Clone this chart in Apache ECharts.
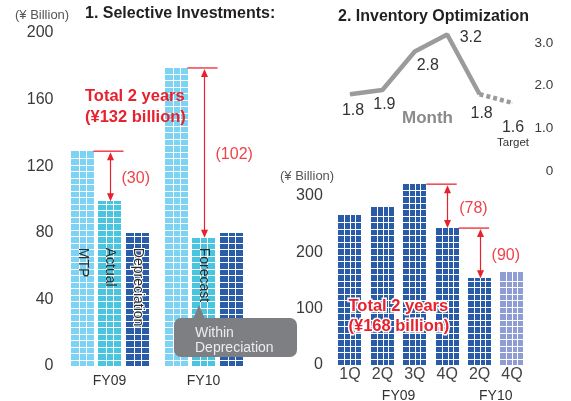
<!DOCTYPE html>
<html>
<head>
<meta charset="utf-8">
<script src="https://cdn.jsdelivr.net/npm/echarts@6/dist/echarts.min.js"></script>
<style>
  html, body { margin: 0; padding: 0; background: #fff; }
  #main { width: 571px; height: 401px; }
</style>
</head>
<body>
<div id="main"></div>
<script>
  // 1. Selective Investments (¥ Billion)
  var invYears = ['FY09', 'FY10'];
  var mtp = [129, 179];
  var actual = [99, 77];          // FY09 actual, FY10 forecast
  var depreciation = [80, 80];
  var invBarNames = [['MTP', 'Actual', 'Depreciation'], ['', 'Forecast', '']];
  var invGapLabels = ['(30)', '(102)'];

  // 2. Inventory Optimization
  var quarters = ['1Q', '2Q', '3Q', '4Q', '2Q', '4Q'];
  var fiscalGroups = ['FY09', 'FY10'];
  var fiscalSpans = [[0, 3], [4, 5]];
  var inventory = [266, 280, 321, 243, 154, 165];   // ¥ Billion
  var months = [1.8, 1.9, 2.8, 3.2, 1.8, 1.6];      // months of inventory
  var invReduceLabels = ['(78)', '(90)'];

  var FONT = '"Liberation Sans", Arial, sans-serif';
  var RED = '#e8212e';
  var RED_LIGHT = '#ee434c';

  var LEFT_LAY = { step: 0.2926, width: 0.24, cols: 3, ext: 14 };
  var RIGHT_LAY = { step: 0, width: 0.71, cols: 4, ext: 9.5 };

  function slotOf(api, cat, slot, lay) {
    var band = api.coord([1, 0])[0] - api.coord([0, 0])[0];
    return { cx: api.coord([cat, 0])[0] + slot * band * lay.step, w: band * lay.width };
  }

  // bar drawn as a tiled block (white grid over the fill)
  function barRender(lay, colors, names) {
    return function (params, api) {
      var cat = api.value(0), slot = api.value(1), val = api.value(2), ci = api.value(3);
      var g = slotOf(api, cat, slot, lay);
      var x = Math.round(g.cx - g.w / 2), w = Math.round(g.w);
      var yBase = Math.round(api.coord([cat, 0])[1]);
      var yTop = Math.round(api.coord([cat, val])[1]);
      var ch = [{ type: 'rect', shape: { x: x, y: yTop, width: w, height: yBase - yTop }, style: { fill: colors[ci] } }];
      for (var k = 1; k < lay.cols; k++) {
        ch.push({ type: 'rect', shape: { x: Math.round(x + w * k / lay.cols), y: yTop, width: 1, height: yBase - yTop }, style: { fill: '#fff' } });
      }
      for (var yy = yBase - 6.5; yy > yTop + 2; yy -= 6.5) {
        ch.push({ type: 'rect', shape: { x: x, y: Math.round(yy), width: w, height: 1 }, style: { fill: '#fff' } });
      }
      var t = names && names[params.dataIndex];
      if (t) {
        ch.push({
          type: 'text', x: x + w / 2, y: api.coord([cat, 71])[1], rotation: -Math.PI / 2,
          style: {
            text: t, fill: '#2b2b2b', font: '14px ' + FONT, align: 'left', verticalAlign: 'middle',
            stroke: ci === 2 ? '#fff' : null, lineWidth: ci === 2 ? 2 : 0
          }
        });
      }
      return { type: 'group', children: ch };
    };
  }

  // red bracket: level line + double arrow + label
  function arrowRender(lay, texts) {
    return function (params, api) {
      var a = slotOf(api, api.value(0), api.value(1), lay);
      var b = slotOf(api, api.value(3), api.value(4), lay);
      var y1 = api.coord([0, api.value(2)])[1];
      var y2 = api.coord([0, api.value(5)])[1];
      var cx = Math.round(b.cx) + 0.5;
      return {
        type: 'group', children: [
          { type: 'line', shape: { x1: a.cx + a.w / 2, y1: y1, x2: b.cx + lay.ext, y2: y1 }, style: { stroke: RED_LIGHT, lineWidth: 1.5 } },
          { type: 'line', shape: { x1: cx, y1: y1 + 6, x2: cx, y2: y2 - 6 }, style: { stroke: RED, lineWidth: 1.2 } },
          { type: 'polygon', shape: { points: [[cx, y1 + 1], [cx - 3.5, y1 + 9], [cx + 3.5, y1 + 9]] }, style: { fill: RED } },
          { type: 'polygon', shape: { points: [[cx, y2], [cx - 3.5, y2 - 8], [cx + 3.5, y2 - 8]] }, style: { fill: RED } },
          { type: 'text', x: b.cx + 12, y: (y1 + y2) / 2 + 2, style: { text: texts[params.dataIndex], fill: RED_LIGHT, font: '16px ' + FONT, verticalAlign: 'middle' } }
        ]
      };
    };
  }

  var leftBars = [], leftArrows = [];
  invYears.forEach(function (y, i) {
    leftBars.push([i, -1, mtp[i], 0], [i, 0, actual[i], 1], [i, 1, depreciation[i], 2]);
    leftArrows.push([i, -1, mtp[i], i, 0, actual[i]]);
  });
  var leftNames = [].concat.apply([], invBarNames);

  var rightBars = inventory.map(function (v, i) { return [i, 0, v, i === inventory.length - 1 ? 1 : 0]; });
  var rightArrows = [[2, 0, inventory[2], 3, 0, inventory[3]], [3, 0, inventory[3], 4, 0, inventory[4]]];
  var spanData = fiscalSpans.map(function (s) { return [s[0], s[1], 0]; });

  var solidLine = months.slice(0, 5);
  var dashLine = months.map(function (v, i) { return i >= 4 ? v : '-'; });
  var labelOffsets = [[3, 3], [2, 1], [13, 1], [7, 3], [2, 6]];

  var chart = echarts.init(document.getElementById('main'));
  window.onresize = chart.resize;

  var hideAxis = { axisLine: { show: false }, axisTick: { show: false }, splitLine: { show: false } };

  chart.setOption({
    animation: false,
    textStyle: { fontFamily: FONT },
    grid: [
      { left: 62.5, top: 33, width: 188, height: 333 },
      { left: 333.8, top: 43, width: 194.4, height: 128 },
      { left: 333.8, top: 179.1, width: 194.4, height: 185.9 }
    ],
    xAxis: [
      Object.assign({ gridIndex: 0, type: 'category', data: invYears,
        axisLabel: { fontSize: 14, color: '#333', margin: 8 } }, hideAxis),
      Object.assign({ gridIndex: 1, type: 'category', data: quarters, axisLabel: { show: false } }, hideAxis),
      Object.assign({ gridIndex: 2, type: 'category', data: quarters,
        axisLabel: { fontSize: 16, color: '#444', margin: 2 } }, hideAxis)
    ],
    yAxis: [
      Object.assign({ gridIndex: 0, type: 'value', min: 0, max: 200, interval: 40,
        axisLabel: { fontSize: 16, color: '#3a3a3a', margin: 9 } }, hideAxis),
      Object.assign({ gridIndex: 1, type: 'value', position: 'right', min: 0, max: 3, interval: 1,
        axisLabel: { fontSize: 13.5, color: '#3a3a3a', align: 'right', margin: 25,
          formatter: function (v) { return v === 0 ? '0' : v.toFixed(1); } } }, hideAxis),
      Object.assign({ gridIndex: 2, type: 'value', min: 0, max: 330, interval: 100,
        axisLabel: { fontSize: 16, color: '#3a3a3a', margin: 11,
          formatter: function (v) { return v % 100 === 0 ? v : ''; } } }, hideAxis)
    ],
    series: [
      { type: 'custom', xAxisIndex: 0, yAxisIndex: 0, clip: false, z: 2, encode: { x: 0, y: 2 },
        renderItem: barRender(LEFT_LAY, ['#7dd3f3', '#4ac5df', '#2b5ca8'], leftNames), data: leftBars },
      { type: 'custom', xAxisIndex: 0, yAxisIndex: 0, clip: false, z: 5, encode: { x: 0, y: 2 },
        renderItem: arrowRender(LEFT_LAY, invGapLabels), data: leftArrows },
      { type: 'custom', xAxisIndex: 2, yAxisIndex: 2, clip: false, z: 2, encode: { x: 0, y: 2 },
        renderItem: barRender(RIGHT_LAY, ['#2a5ba8', '#8e9ed4'], null), data: rightBars },
      { type: 'custom', xAxisIndex: 2, yAxisIndex: 2, clip: false, z: 5, encode: { x: 0, y: 2 },
        renderItem: arrowRender(RIGHT_LAY, invReduceLabels), data: rightArrows },
      { type: 'custom', xAxisIndex: 2, yAxisIndex: 2, clip: false, encode: { x: 0, y: 2 },
        renderItem: function (params, api) {
          var xa = api.coord([api.value(0), 0]), xb = api.coord([api.value(1), 0]);
          return { type: 'text', x: (xa[0] + xb[0]) / 2, y: xa[1] + 31,
            style: { text: fiscalGroups[params.dataIndex], fill: '#333', font: '14px ' + FONT, align: 'center', verticalAlign: 'middle' } };
        },
        data: spanData },
      { type: 'line', xAxisIndex: 1, yAxisIndex: 1, clip: false, symbol: 'circle', symbolSize: 1,
        lineStyle: { color: '#9b9b9b', width: 4.5 }, itemStyle: { color: '#9b9b9b' },
        label: { show: true, position: 'bottom', distance: 5, fontSize: 16, color: '#333' },
        data: solidLine.map(function (v, i) {
          return { value: v, label: i === 3 ? { position: 'right', offset: labelOffsets[i] } : { offset: labelOffsets[i] } };
        }) },
      { type: 'line', xAxisIndex: 1, yAxisIndex: 1, clip: false, symbol: 'circle', symbolSize: 1,
        lineStyle: { color: '#9b9b9b', width: 4.5, type: [4, 3] }, itemStyle: { color: '#9b9b9b' },
        label: { show: false },
        data: dashLine.map(function (v, i) {
          if (i !== 5) return v;
          return { value: v, label: { show: true, position: 'bottom', distance: 5, offset: [1, 11],
            formatter: '{a|{c}}\n{b|Target}',
            rich: { a: { fontSize: 16, color: '#333', lineHeight: 17, align: 'center' },
                    b: { fontSize: 11.5, color: '#333', lineHeight: 13, align: 'center' } } } };
        }) }
    ],
    graphic: [
      { type: 'text', left: 15, top: 9, z: 100, style: { text: '(¥ Billion)', fill: '#555', font: '13px ' + FONT } },
      { type: 'text', left: 85, top: 6, z: 100, style: { text: '1. Selective Investments:', fill: '#231f20', font: 'bold 16px ' + FONT } },
      { type: 'text', left: 338, top: 9, z: 100, style: { text: '2. Inventory Optimization', fill: '#231f20', font: 'bold 16px ' + FONT } },
      { type: 'text', left: 402, top: 110, z: 100, style: { text: 'Month', fill: '#8a8a8a', font: 'bold 17px ' + FONT } },
      { type: 'text', left: 280, top: 170, z: 100, style: { text: '(¥ Billion)', fill: '#555', font: '13px ' + FONT } },
      { type: 'text', left: 85, top: 86, z: 100,
        style: { text: 'Total 2 years\n(¥132 billion)', fill: RED, font: 'bold 16.5px ' + FONT, lineHeight: 21 } },
      { type: 'text', left: 347, top: 296, z: 100,
        style: { text: 'Total 2 years\n(¥168 billion)', fill: RED, stroke: '#fff', lineWidth: 3, font: 'bold 16.5px ' + FONT, lineHeight: 20 } },
      { type: 'rect', z: 100, shape: { x: 174, y: 318, width: 123, height: 39, r: 7 }, style: { fill: '#7e7f82' } },
      { type: 'polygon', z: 100, shape: { points: [[193, 319], [199, 305], [205, 319]] }, style: { fill: '#7e7f82' } },
      { type: 'text', z: 101, x: 195, y: 326, style: { text: 'Within\nDepreciation', fill: '#ececec', font: '14px ' + FONT, lineHeight: 15 } }
    ]
  });
</script>
</body>
</html>
